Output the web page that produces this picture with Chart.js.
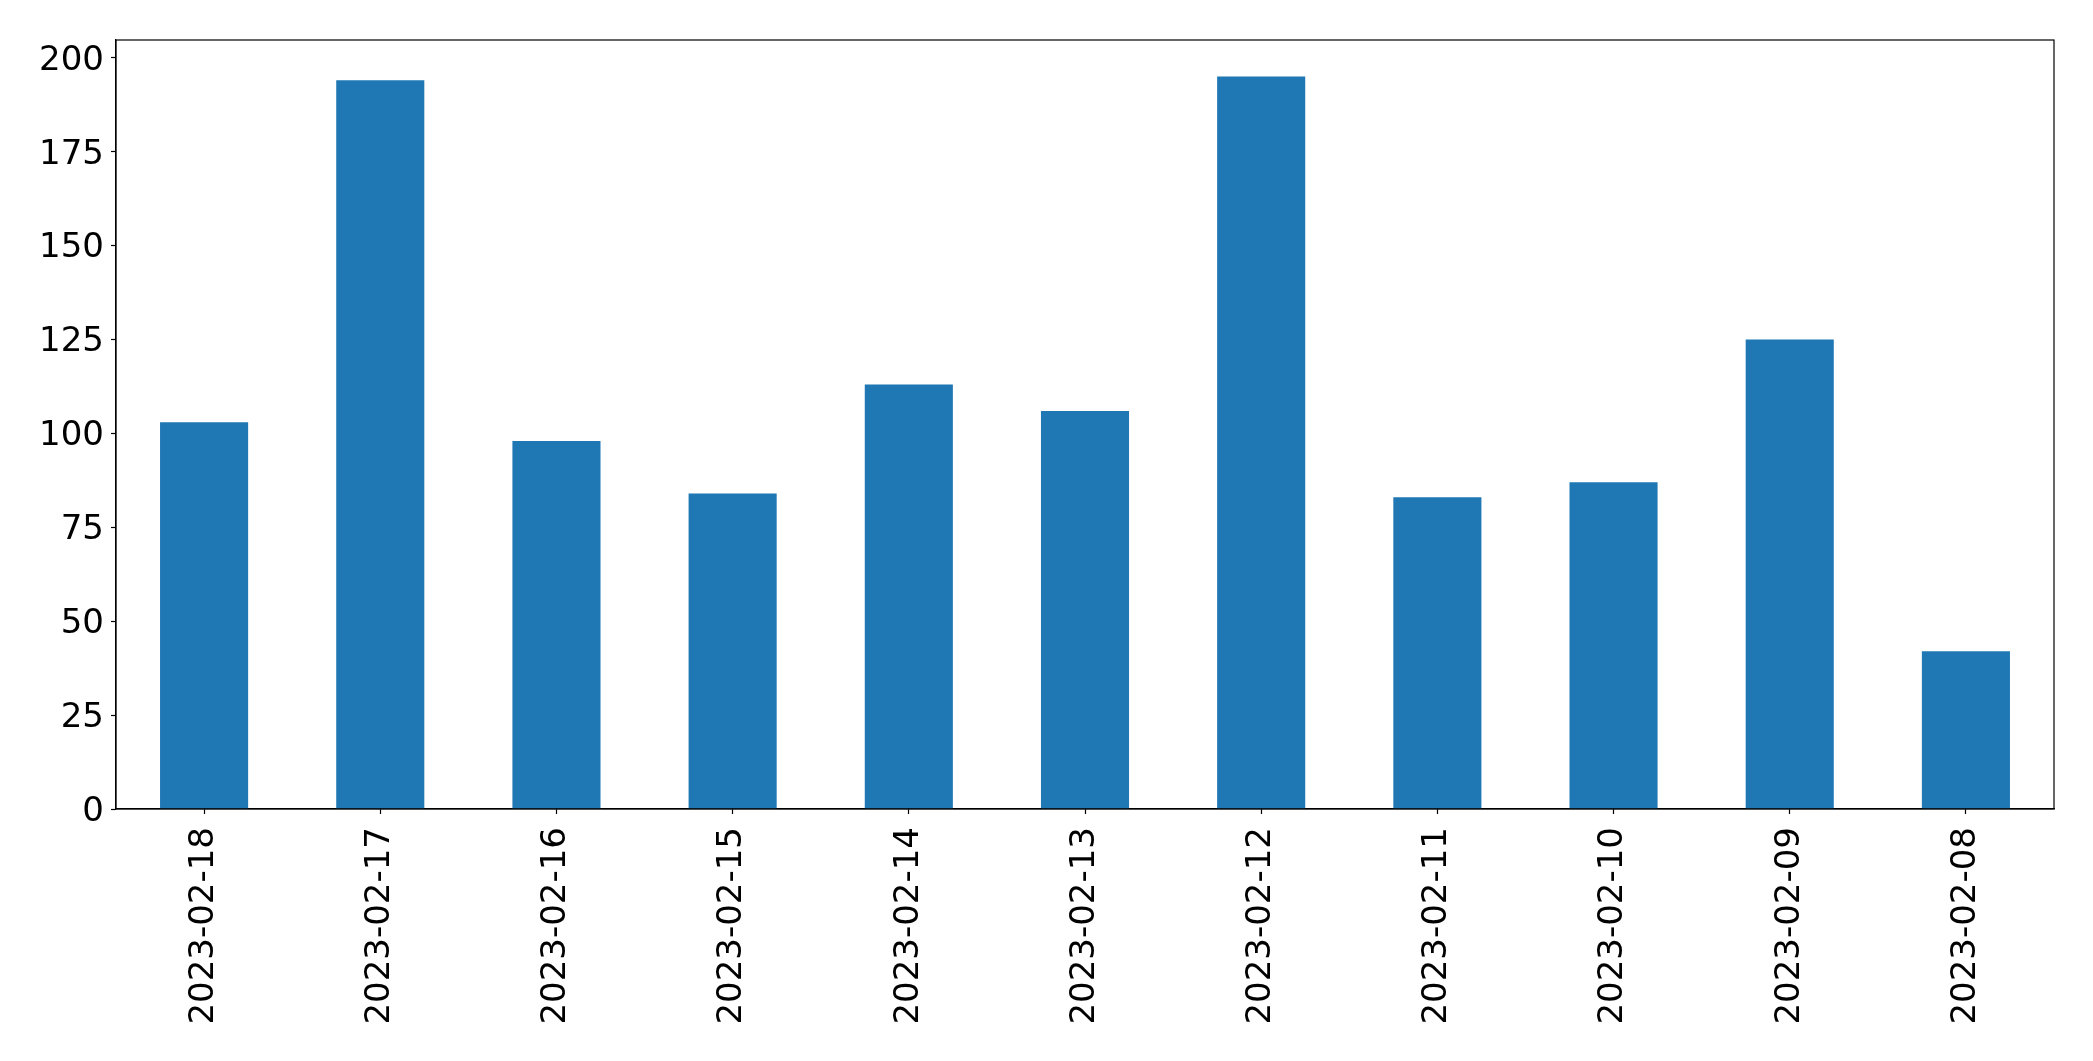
<!DOCTYPE html>
<html>
<head>
<meta charset="utf-8">
<script src="https://cdn.jsdelivr.net/npm/chart.js@4.4.1/dist/chart.umd.min.js"></script>
<style>
  html, body { margin:0; padding:0; background:#fff; }
  #wrap { width:2093px; height:1061px; }
</style>
</head>
<body>
<div id="wrap"><canvas id="chart"></canvas></div>
<script>
/* ── 데이터 ── */
const dates  = ['2023-02-18','2023-02-17','2023-02-16','2023-02-15','2023-02-14','2023-02-13',
                '2023-02-12','2023-02-11','2023-02-10','2023-02-09','2023-02-08'];
const counts = [103, 194, 98, 84, 113, 106, 195, 83, 87, 125, 42];
const yTicks = [0, 25, 50, 75, 100, 125, 150, 175, 200];

/* ── 스타일 ── */
const BAR  = '#1f77b4';
const INK  = '#000';
const FONT = { family: 'DejaVu Sans', size: 34 };

/* 플롯 테두리(사방) */
const frame = {
  id: 'frame',
  afterDraw(chart){
    const { ctx, chartArea: a } = chart;
    ctx.save();
    ctx.strokeStyle = INK;
    ctx.lineWidth = 1.2;
    ctx.strokeRect(a.left, a.top, a.right - a.left, a.bottom - a.top);
    ctx.restore();
  }
};

new Chart(document.getElementById('chart'), {
  type: 'bar',
  data: {
    labels: dates,
    datasets: [{
      data: counts,
      backgroundColor: BAR,
      borderWidth: 0,
      barPercentage: 0.5,
      categoryPercentage: 1.0
    }]
  },
  options: {
    responsive: true,
    maintainAspectRatio: false,
    animation: false,
    layout: { padding: { top: 40, right: 39, left: 0, bottom: 0 } },
    plugins: { legend: { display: false }, tooltip: { enabled: false } },
    scales: {
      x: {
        afterFit(s){ s.height = 252; },
        grid: { display: true, drawOnChartArea: false, offset: false, tickLength: 5, color: INK, tickWidth: 1.2 },
        border: { display: true, color: INK, width: 1.2 },
        ticks: { color: INK, font: FONT, minRotation: 90, maxRotation: 90, padding: 13, autoSkip: false }
      },
      y: {
        min: 0,
        max: 204.75,
        afterFit(s){ s.width = 116; },
        afterBuildTicks(s){ s.ticks = yTicks.map(v => ({ value: v })); },
        grid: { display: true, drawOnChartArea: false, tickLength: 5, color: INK, tickWidth: 1.2 },
        border: { display: true, color: INK, width: 1.2 },
        ticks: { color: INK, font: FONT, padding: 7, labelOffset: 3 }
      }
    }
  },
  plugins: [frame]
});
</script>
</body>
</html>
